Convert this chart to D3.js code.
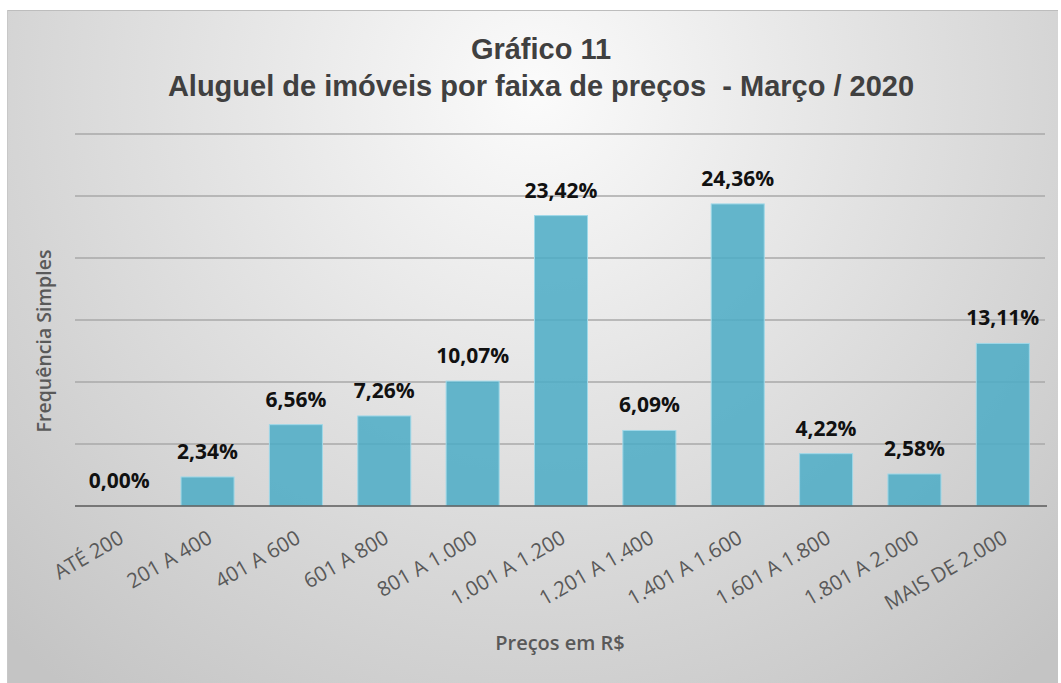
<!DOCTYPE html>
<html>
<head>
<meta charset="utf-8">
<script src="https://cdn.jsdelivr.net/npm/d3@7"></script>
<style>
  body { margin: 0; background: #fff; }
  text { white-space: pre; }
</style>
</head>
<body>
<svg width="1061" height="683"></svg>
<script>
const categories = ['ATÉ 200', '201 A 400', '401 A 600', '601 A 800', '801 A 1.000', '1.001 A 1.200',
  '1.201 A 1.400', '1.401 A 1.600', '1.601 A 1.800', '1.801 A 2.000', 'MAIS DE 2.000']
const values = [0.00, 2.34, 6.56, 7.26, 10.07, 23.42, 6.09, 24.36, 4.22, 2.58, 13.11]
const gridTicks = [0, 5, 10, 15, 20, 25, 30]

const svg = d3.select('svg')
const width = +svg.attr('width')
const height = +svg.attr('height')

const margin = { top: 134, right: 14, bottom: 177, left: 75 }
const innerBottom = height - margin.bottom

// background
const defs = svg.append('defs')
const grad = defs.append('radialGradient')
    .attr('id', 'bg')
    .attr('gradientUnits', 'userSpaceOnUse')
    .attr('cx', 535).attr('cy', 90).attr('r', 760)
grad.append('stop').attr('offset', 0).attr('stop-color', '#fbfbfb')
grad.append('stop').attr('offset', 0.45).attr('stop-color', '#e2e2e2')
grad.append('stop').attr('offset', 1).attr('stop-color', '#c4c4c4')

svg.append('rect')
    .attr('x', 7).attr('y', 10)
    .attr('width', 1051).attr('height', height - 10)
    .attr('fill', 'url(#bg)')
svg.append('line')
    .attr('x1', 7).attr('x2', 1058).attr('y1', 10.5).attr('y2', 10.5)
    .attr('stroke', '#bdbdbd')
svg.append('line')
    .attr('x1', 7.5).attr('x2', 7.5).attr('y1', 10).attr('y2', height)
    .attr('stroke', '#c8c8c8')

const xScale = d3.scaleBand()
    .domain(categories)
    .range([margin.left, width - margin.right])
    .paddingInner(0.4)
    .paddingOuter(0.2)

const yScale = d3.scaleLinear()
    .domain([0, 30])
    .range([innerBottom, margin.top])

// gridlines
svg.append('g').selectAll('line').data(gridTicks.slice(1))
    .enter().append('line')
        .attr('x1', margin.left).attr('x2', width - margin.right - 2)
        .attr('y1', d => yScale(d)).attr('y2', d => yScale(d))
        .attr('stroke', '#a9a9a9')
        .attr('stroke-width', 1.6)

// bars
svg.append('g').selectAll('rect').data(values)
    .enter().append('rect')
        .attr('x', (d, i) => xScale(categories[i]))
        .attr('y', d => yScale(d))
        .attr('width', xScale.bandwidth())
        .attr('height', d => yScale(0) - yScale(d))
        .attr('fill', '#4bacc6')
        .attr('fill-opacity', 0.85)
        .attr('stroke', '#9fd8e8')
        .attr('stroke-width', 1)

// baseline
svg.append('line')
    .attr('x1', margin.left).attr('x2', width - margin.right)
    .attr('y1', yScale(0)).attr('y2', yScale(0))
    .attr('stroke', '#5a5a5a')
    .attr('stroke-width', 1.3)

// value labels
svg.append('g').selectAll('text').data(values)
    .enter().append('text')
        .attr('x', (d, i) => xScale(categories[i]) + xScale.bandwidth() / 2)
        .attr('y', d => yScale(d) - 18)
        .attr('text-anchor', 'middle')
        .attr('font-family', 'Open Sans')
        .attr('font-weight', 700)
        .attr('font-size', 21)
        .attr('fill', '#111')
        .text(d => d.toFixed(2).replace('.', ',') + '%')

// x tick labels
svg.append('g').selectAll('text').data(categories)
    .enter().append('text')
        .attr('transform', d => `translate(${xScale(d) + xScale.bandwidth() / 2 + 6}, ${innerBottom + 36}) rotate(-30)`)
        .attr('text-anchor', 'end')
        .attr('font-family', 'Open Sans')
        .attr('font-size', 20.5)
        .attr('fill', '#595959')
        .text(d => d)

// titles
svg.append('text')
    .attr('x', 541).attr('y', 59)
    .attr('text-anchor', 'middle')
    .attr('font-family', 'Liberation Sans')
    .attr('font-weight', 700)
    .attr('font-size', 29)
    .attr('fill', '#404040')
    .text('Gráfico 11')
svg.append('text')
    .attr('x', 541).attr('y', 96)
    .attr('text-anchor', 'middle')
    .attr('font-family', 'Liberation Sans')
    .attr('font-weight', 700)
    .attr('font-size', 29)
    .attr('fill', '#404040')
    .text('Aluguel de imóveis por faixa de preços  - Março / 2020')

svg.append('text')
    .attr('transform', 'translate(51, 341) rotate(-90)')
    .attr('text-anchor', 'middle')
    .attr('font-family', 'Open Sans')
    .attr('font-weight', 600)
    .attr('font-size', 19.5)
    .attr('fill', '#595959')
    .text('Frequência Simples')

svg.append('text')
    .attr('x', 560).attr('y', 650)
    .attr('text-anchor', 'middle')
    .attr('font-family', 'Open Sans')
    .attr('font-weight', 600)
    .attr('font-size', 20)
    .attr('fill', '#595959')
    .text('Preços em R$')
</script>
</body>
</html>
